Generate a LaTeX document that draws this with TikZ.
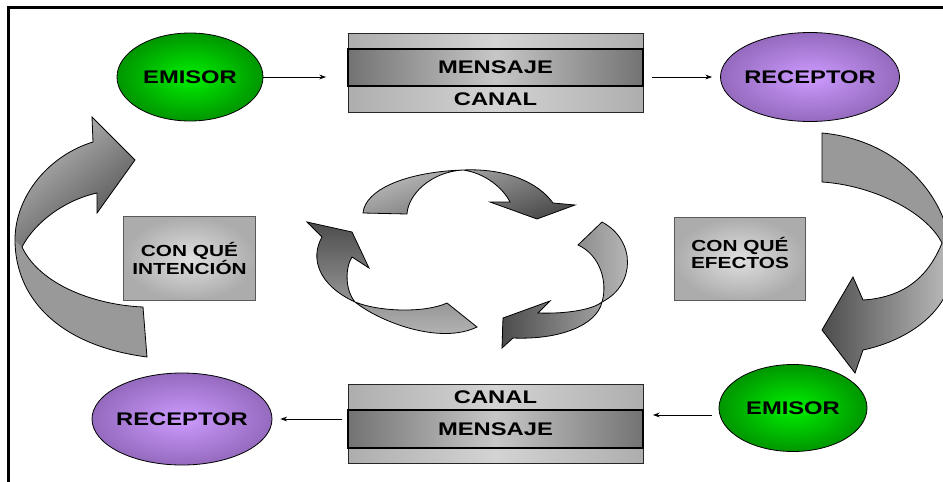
\documentclass[tikz,border=0pt]{standalone}
\usepackage{fontspec}
\newfontfamily\lbl{Liberation Sans Bold}[FakeStretch=1.3]
\usetikzlibrary{shapes.geometric,arrows.meta}
\definecolor{grin}{RGB}{0,240,0}
\definecolor{grout}{RGB}{0,150,0}
\definecolor{prin}{RGB}{205,155,255}
\definecolor{prout}{RGB}{148,106,190}
\definecolor{qin}{RGB}{224,224,224}
\definecolor{qout}{RGB}{172,172,172}
\colorlet{rlight}{black!26}
\colorlet{rmid}{black!40}
\colorlet{rdark}{black!70}
\begin{document}
\begin{tikzpicture}[x=0.75pt,y=-0.75pt,
  lab/.style={font=\lbl\fontsize{13.7}{16}\selectfont, text=black},
  emi/.style={ellipse, draw=black, line width=0.6pt, inner color=grin, outer color=grout, inner xsep=-8pt, inner ysep=0pt, lab},
  rec/.style={ellipse, draw=black, line width=0.6pt, inner color=prin, outer color=prout, inner xsep=-8pt, inner ysep=0pt, lab},
  strip/.style={rectangle, draw=black!85, line width=0.6pt, left color=black!32, right color=black!32, middle color=black!17, minimum width=221.25pt, inner sep=0pt, lab},
  band/.style={rectangle, draw=black, line width=1.5pt, left color=black!55, right color=black!55, middle color=black!22, minimum width=221.25pt, inner sep=0pt, lab},
  qbox/.style={rectangle, draw=black!65, line width=0.6pt, inner color=qin, outer color=qout, minimum width=98.6pt, minimum height=62.5pt, inner sep=0pt},
  qtext/.style={align=center, inner sep=0pt, font=\lbl\fontsize{12}{12.75}\selectfont},
  conn/.style={-{Stealth[length=5pt,width=3.6pt]}, line width=0.6pt},
  ribbon/.style={draw=black, line width=0.6pt}
]
\useasboundingbox (0,0) rectangle (943,482);
\fill[white] (0,0) rectangle (943,482);

% big curved arrows
\begin{scope}
\clip (0,0) rectangle (943,482);
% left
\fill[rmid]
  (143,307) .. controls (95,305) and (40,285) .. (22,247)
  .. controls (35,222) and (65,200) .. (97,193)
  -- (97,213) -- (135,160) -- (92,117) -- (93,142)
  .. controls (50,155) and (15,195) .. (15,240)
  .. controls (15,295) and (55,345) .. (147,357) -- cycle;
\shade[left color=rlight, right color=rdark, shading angle=40]
  (22,247) .. controls (35,222) and (65,200) .. (97,193)
  -- (97,213) -- (135,160) -- (92,117) -- (93,142)
  .. controls (50,155) and (15,195) .. (15,240) -- cycle;
\draw[ribbon]
  (143,307) .. controls (95,305) and (40,285) .. (22,247)
  .. controls (35,222) and (65,200) .. (97,193)
  -- (97,213) -- (135,160) -- (92,117) -- (93,142)
  .. controls (50,155) and (15,195) .. (15,240)
  .. controls (15,295) and (55,345) .. (147,357) -- cycle;
% right
\fill[rmid]
  (822,182) .. controls (870,185) and (925,210) .. (942,243)
  .. controls (925,285) and (895,298) .. (863,300)
  -- (853,277) -- (822,330) -- (855,373) -- (863,350)
  .. controls (910,340) and (950,310) .. (952,270)
  .. controls (955,200) and (900,140) .. (822,133) -- cycle;
\shade[left color=rdark, right color=rlight]
  (942,243) .. controls (925,285) and (895,298) .. (863,300)
  -- (853,277) -- (822,330) -- (855,373) -- (863,350)
  .. controls (910,340) and (950,310) .. (952,270) -- cycle;
\draw[ribbon]
  (822,182) .. controls (870,185) and (925,210) .. (942,243)
  .. controls (925,285) and (895,298) .. (863,300)
  -- (853,277) -- (822,330) -- (855,373) -- (863,350)
  .. controls (910,340) and (950,310) .. (952,270)
  .. controls (955,200) and (900,140) .. (822,133) -- cycle;
\end{scope}

% central cycle
\shade[ribbon, left color=rlight, right color=rdark, shading angle=20]
  (407,214) .. controls (408,195) and (430,172) .. (463,170)
  .. controls (485,173) and (503,188) .. (510,202)
  -- (490,202) -- (537,219) -- (575,205) -- (553,203)
  .. controls (538,182) and (505,168) .. (463,170)
  .. controls (405,172) and (365,190) .. (363,213) -- cycle;
\shade[ribbon, left color=rdark, right color=rlight]
  (578,245) .. controls (600,255) and (608,282) .. (602,302)
  .. controls (597,325) and (560,340) .. (513,338)
  -- (502,348) -- (503,318) -- (550,301) -- (538,313)
  .. controls (565,314) and (592,310) .. (602,302)
  .. controls (636,285) and (636,240) .. (602,222) -- cycle;
\shade[ribbon, top color=rdark, bottom color=rlight]
  (447,303) .. controls (425,313) and (380,312) .. (355,302)
  .. controls (345,290) and (345,268) .. (352,257)
  -- (369,268) -- (352,232) -- (307,222) -- (322,237)
  .. controls (310,258) and (318,285) .. (355,302)
  .. controls (380,322) and (440,345) .. (477,327) -- cycle;

% ellipses
\node[emi, minimum width=109.5pt, minimum height=66pt] (e1) at (190,77) {EMISOR};
\node[rec, minimum width=134.25pt, minimum height=66.75pt] (r1) at (810,77) {RECEPTOR};
\node[rec, minimum width=135pt, minimum height=69pt] (r2) at (182,419) {RECEPTOR};
\node[emi, minimum width=111pt, minimum height=65.25pt] (e2) at (793,408) {EMISOR};

% top message box
\node[strip, minimum height=12pt] (ts) at (495.5,41) {};
\node[strip, minimum height=19.5pt] (tc) at (495.5,99) {CANAL};
\node[band, minimum height=27.75pt] (tm) at (495.5,67.5) {MENSAJE};

% bottom message box
\node[strip, minimum height=19.5pt] (bc) at (495.5,397) {CANAL};
\node[strip, minimum height=11.25pt] (bs) at (495.5,455.5) {};
\node[band, minimum height=28.5pt] (bm) at (495.5,429) {MENSAJE};

% question boxes
\node[qbox] (q1) at (189.5,258.5) {};
\node[qtext] at (q1.center) {CON QUÉ\\INTENCIÓN};
\node[qbox] (q2) at (740,259) {};
\node[qtext] at ([yshift=4.5pt]q2.center) {CON QUÉ\\EFECTOS};

% connectors
\draw[conn, shorten >=15.75pt] (e1.east) -- (e1.east -| tm.west);
\draw[conn, shorten <=6pt, shorten >=6pt] (r1.west -| tm.east) -- (r1.west);
\draw[conn, shorten <=5.25pt, shorten >=6.75pt] ([yshift=-5.25pt]e2.west) -- ([yshift=-5.25pt]e2.west -| bm.east);
\draw[conn, shorten <=3.75pt, shorten >=6pt] (r2.east -| bm.west) -- (r2.east);

% frame
\draw[line width=2.6pt] (8.5,482) -- (8.5,7.5) -- (943,7.5);
\end{tikzpicture}
\end{document}
